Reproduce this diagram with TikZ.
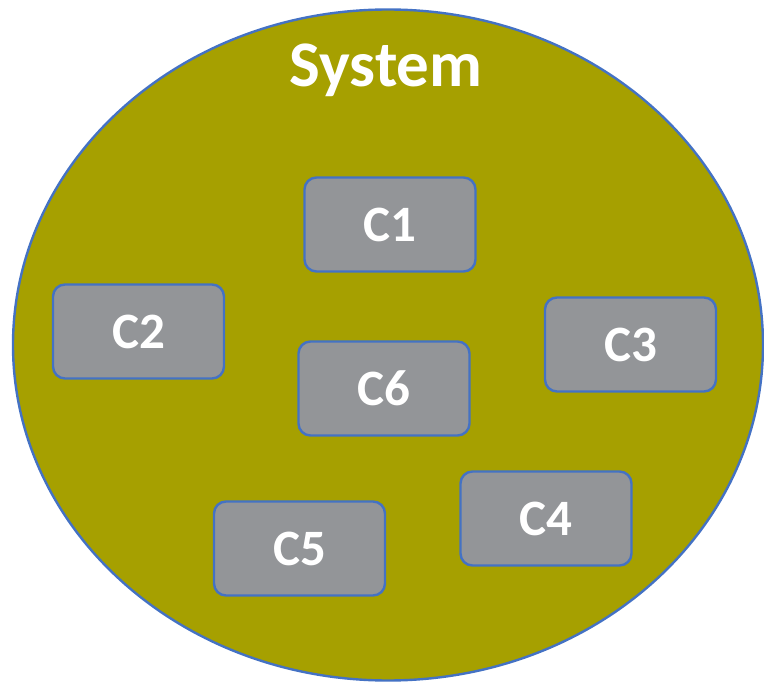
\documentclass[tikz,border=0pt]{standalone}
\usepackage{fontspec}
\setmainfont{Carlito}
\usetikzlibrary{shapes.geometric}
\definecolor{olivefill}{HTML}{A6A000}
\definecolor{edgeblue}{HTML}{4472C4}
\definecolor{boxgray}{HTML}{939598}
\tikzset{
  compbox/.style={draw=edgeblue, line width=2.4pt, fill=boxgray, rounded corners=12pt,
    minimum width=171pt, minimum height=94pt, inner sep=0pt,
    text=white, font=\fontsize{51}{51}\selectfont\bfseries},
  sysshape/.style={ellipse, draw=edgeblue, line width=2.4pt, fill=olivefill,
    minimum width=750pt, minimum height=671pt, inner sep=0pt},
  systitle/.style={text=white, font=\fontsize{65}{65}\selectfont\bfseries, inner sep=0pt, anchor=base}
}
\begin{document}
\begin{tikzpicture}[x=1pt,y=-1pt]
  \useasboundingbox (0,0) rectangle (764,682);
  % enclosing system
  \node[sysshape] (system) at (388,345) {};
  \node[systitle] (title) at (386,87) {System};
  % components
  \node[compbox] (c1) at (390,224.5) {C1};
  \node[compbox] (c2) at (138.5,331.5) {C2};
  \node[compbox] (c3) at (630.5,344.5) {C3};
  \node[compbox] (c6) at (384,388.5) {C6};
  \node[compbox] (c4) at (546,518.5) {C4};
  \node[compbox] (c5) at (299.5,548.5) {C5};
\end{tikzpicture}
\end{document}
